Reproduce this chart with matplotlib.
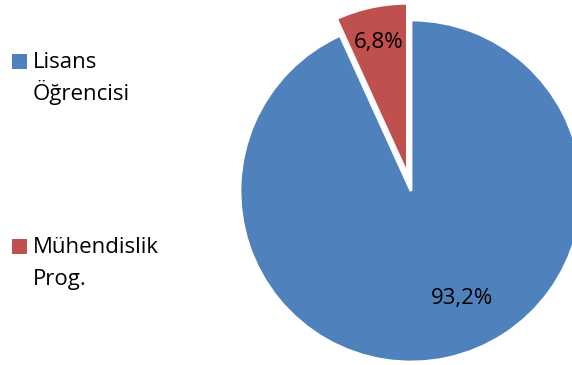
import matplotlib.pyplot as plt
from matplotlib.patches import Rectangle

plt.rcParams['font.family'] = ['Open Sans', 'DejaVu Sans']

labels = ['Lisans\nÖğrencisi', 'Mühendislik\nProg.']
values = [93.2, 6.8]
colors = ['#4F81BD', '#C0504D']
explode = [0, 0.1]

fig = plt.figure(figsize=(5.72, 3.65), dpi=100)
# pie centre sits at about (411, 191) px, radius about 171 px
cx, cy, r = 411, 191, 171
ax = fig.add_axes([(cx - r)/572, 1 - (cy + r)/365, 2*r/572, 2*r/365])

wedges, texts, autotexts = ax.pie(
    values, colors=colors, explode=explode, startangle=90, counterclock=False,
    autopct=lambda p: f'{p:.1f}%'.replace('.', ','), pctdistance=0.79,
    wedgeprops=dict(edgecolor='white', linewidth=2),
    textprops=dict(fontsize=16, color='black'))
autotexts[0].set_position((0.30, -0.63))
ax.set_xlim(-1, 1)
ax.set_ylim(-1, 1)
ax.set_aspect('equal')
ax.axis('off')

# legend drawn by hand, one text per line so the spacing stays even
legend_base = [68, 253]
for lab, col, y in zip(labels, colors, legend_base):
    fig.patches.append(Rectangle((12/572, 1 - (y + 1)/365), 15/572, 15/365,
                                 transform=fig.transFigure, facecolor=col))
    for i, line in enumerate(lab.split('\n')):
        fig.text(33/572, 1 - (y + 32*i)/365, line, fontsize=16,
                 va='baseline', ha='left')

fig.savefig('out.png', dpi=100)
